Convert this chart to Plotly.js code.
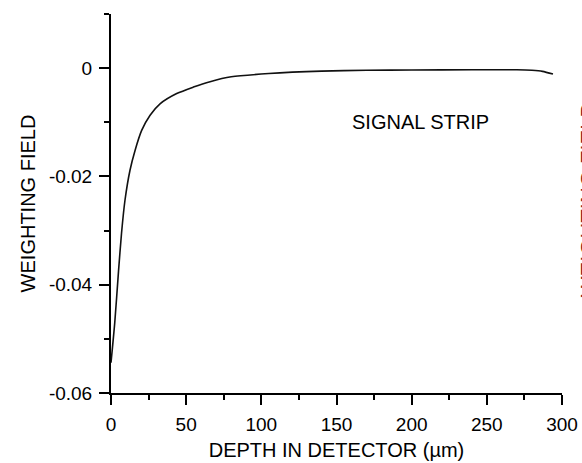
<!DOCTYPE html>
<html>
<head>
<meta charset="utf-8">
<script src="https://cdn.plot.ly/plotly-3.0.1.min.js"></script>
<style>html,body{margin:0;padding:0;background:#fff;overflow:hidden}#chart{width:582px;height:463px}</style>
</head>
<body>
<div id="chart"></div>
<script>
const depth = [0, 2.5, 5, 7, 9.3, 12.6, 16, 20.4, 26, 32.6, 43.7, 54.8, 65.9, 80, 105, 140, 170, 200, 240, 270, 280, 287, 294];
const field = [-0.0544, -0.047, -0.0375, -0.0305, -0.0244, -0.0189, -0.0152, -0.0115, -0.0087, -0.0066, -0.0047, -0.0035, -0.0025, -0.0016, -0.001, -0.00056, -0.0004, -0.00035, -0.0003, -0.0003, -0.0004, -0.0006, -0.0011];
const xTickVals = [0, 50, 100, 150, 200, 250, 300];
const xTickText = ['0', '50', '100', '150', '200', '250', '300'];
const yTickVals = [-0.06, -0.04, -0.02, 0];
const yTickText = ['-0.06', '-0.04', '-0.02', '0'];

const font = 'Liberation Sans, Arial, sans-serif';
const trace = {
  x: depth, y: field, type: 'scatter', mode: 'lines',
  line: {color: '#111', width: 1.6, shape: 'spline', smoothing: 0.7},
  hoverinfo: 'skip'
};
const layout = {
  width: 582, height: 463,
  margin: {l: 111, r: 20, t: 14, b: 70, pad: 0},
  paper_bgcolor: '#fff', plot_bgcolor: '#fff',
  showlegend: false,
  font: {family: font, color: '#000', size: 18},
  xaxis: {
    range: [0, 300], showgrid: false, zeroline: false,
    showline: true, linecolor: '#000', linewidth: 2,
    ticks: 'outside', ticklen: 10, tickwidth: 2, tickcolor: '#000',
    tickvals: xTickVals, ticktext: xTickText,
    tickfont: {family: font, size: 19, color: '#000'},
    ticklabelstandoff: 3,
    minor: {dtick: 25, ticks: 'outside', ticklen: 5, tickwidth: 2, tickcolor: '#000', showgrid: false},
    title: {text: 'DEPTH IN DETECTOR (\u00b5m)', font: {family: font, size: 20, color: '#000'}, standoff: 9}
  },
  yaxis: {
    range: [-0.06, 0.01], showgrid: false, zeroline: false,
    showline: true, linecolor: '#000', linewidth: 2,
    ticks: 'outside', ticklen: 10, tickwidth: 2, tickcolor: '#000',
    tickvals: yTickVals, ticktext: yTickText,
    tickfont: {family: font, size: 19, color: '#000'},
    ticklabelstandoff: 3,
    minor: {dtick: 0.01, ticks: 'outside', ticklen: 5, tickwidth: 2, tickcolor: '#000', showgrid: false},
    title: {text: 'WEIGHTING FIELD', font: {family: font, size: 20, color: '#000'}, standoff: 8}
  },
  annotations: [
    {x: 206, y: -0.01, xref: 'x', yref: 'y', text: 'SIGNAL STRIP', showarrow: false,
     font: {family: font, size: 20, color: '#000'}},
    {x: (574 - 111) / 451, y: 0.51, xref: 'paper', yref: 'paper', xanchor: 'left', yanchor: 'middle',
     text: 'WEIGHTING FIELD', showarrow: false,
     textangle: -90, font: {family: font, size: 22, color: '#8b2020'}}
  ]
};
Plotly.newPlot('chart', [trace], layout, {staticPlot: true, displayModeBar: false});
</script>
</body>
</html>
